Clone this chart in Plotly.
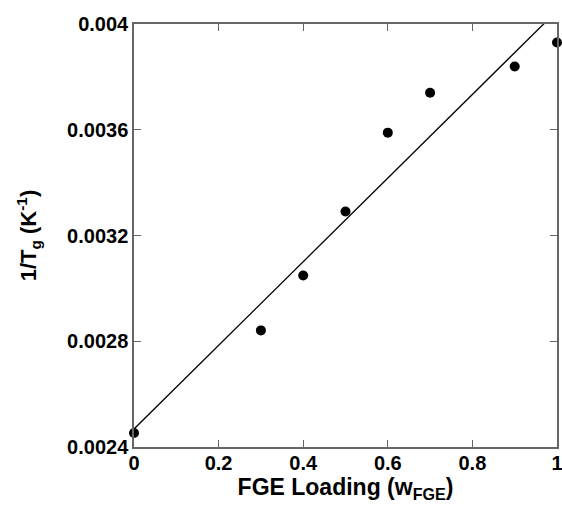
import plotly.graph_objects as go

# measured points
w_fge = [0.0, 0.3, 0.4, 0.5, 0.6, 0.7, 0.9, 1.0]
inv_tg = [0.002453, 0.002841, 0.003049, 0.003291, 0.003589, 0.003740, 0.003839, 0.003930]

# linear fit line
fit_x = [0.0, 1.0]
fit_y = [0.002468, 0.004050]

x_ticks = [0, 0.2, 0.4, 0.6, 0.8, 1]
x_labels = ["0", "0.2", "0.4", "0.6", "0.8", "1"]
y_ticks = [0.0024, 0.0028, 0.0032, 0.0036, 0.004]
y_labels = ["0.0024", "0.0028", "0.0032", "0.0036", "0.004"]

FONT = "Liberation Sans, Arial, sans-serif"
AXCOL = "#666666"

fig = go.Figure()

fig.add_trace(go.Scatter(
    x=fit_x, y=fit_y,
    mode="lines",
    line=dict(color="black", width=1.3),
    showlegend=False,
    hoverinfo="skip"
))

fig.add_trace(go.Scatter(
    x=w_fge, y=inv_tg,
    mode="markers",
    marker=dict(color="black", size=10),
    cliponaxis=False,
    showlegend=False
))

axis_common = dict(
    showline=True, linecolor=AXCOL, linewidth=1.5,
    mirror="ticks", ticks="inside", ticklen=7, tickwidth=1.2, tickcolor=AXCOL,
    showgrid=False, zeroline=False, automargin=False,
    ticklabeloverflow="allow",
    tickfont=dict(family=FONT, size=20, color="black"),
)

fig.update_layout(
    width=562, height=509,
    margin=dict(l=134, r=5, t=24, b=62),
    plot_bgcolor="white",
    paper_bgcolor="white",
    font=dict(family=FONT, color="black"),
    xaxis=dict(
        range=[0, 1],
        tickvals=x_ticks, ticktext=["<b>%s</b>" % t for t in x_labels],
        ticklabelstandoff=-3,
        title=dict(text="<b>FGE Loading (w<sub>FGE</sub>)</b>",
                   font=dict(family=FONT, size=23), standoff=0),
        **axis_common
    ),
    yaxis=dict(
        range=[0.0024, 0.004],
        tickvals=y_ticks, ticktext=["<b>%s</b>" % t for t in y_labels],
        title=dict(text="<b>1/T<sub>g</sub> (K<sup>-1</sup>)</b>",
                   font=dict(family=FONT, size=22), standoff=24),
        **axis_common
    ),
)

fig.write_html("out.html", config={"displayModeBar": False},
               post_script="document.body.style.margin='0';")
